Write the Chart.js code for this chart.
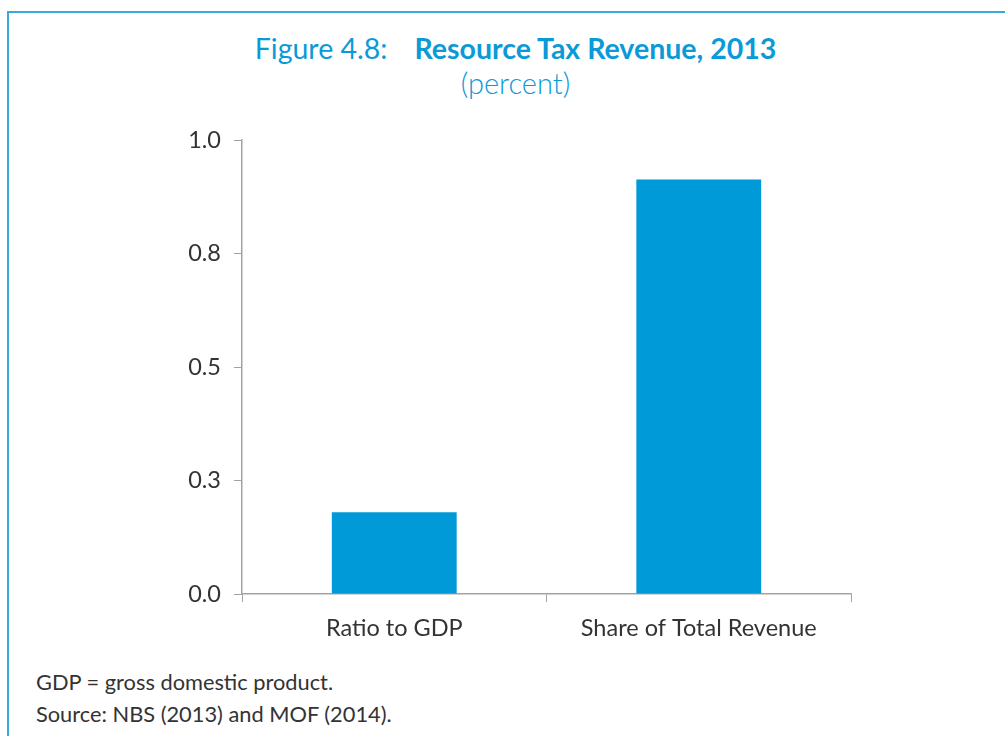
<!DOCTYPE html>
<html>
<head>
<meta charset="utf-8">
<script src="https://cdn.jsdelivr.net/npm/chart.js@4"></script>
<style>
  html, body { margin: 0; padding: 0; background: #fff; }
  body { width: 1005px; height: 736px; position: relative; overflow: hidden; font-family: Lato, "Open Sans", sans-serif; }
  .frame { position: absolute; left: 7px; top: 11px; right: -2px; bottom: -2px; border-top: 2px solid #3aa9dc; border-left: 2px solid #3aa9dc; }
  .title { position: absolute; left: 0; width: 1031px; top: 30px; text-align: center; color: #0a9ad8; font-size: 28.5px; line-height: 36px; }
  .title b { margin-left: 27px; }
  .sub { position: absolute; left: 0; width: 1031px; top: 65px; text-align: center; color: #0a9ad8; font-size: 29px; font-weight: 300; line-height: 36px; }
  .note { position: absolute; left: 36px; color: #333; font-size: 21.8px; }
  #wrap { position: absolute; left: 0; top: 0; width: 1005px; height: 736px; }
</style>
</head>
<body>
<div class="frame"></div>
<div class="title">Figure 4.8:<b>Resource Tax Revenue, 2013</b></div>
<div class="sub">(percent)</div>
<div class="note" style="top:668px">GDP = gross domestic product.</div>
<div class="note" style="top:700px">Source: NBS (2013) and MOF (2014).</div>
<div id="wrap"><canvas id="chart" width="1005" height="736"></canvas></div>
<script>
// values
const categories = ['Ratio to GDP', 'Share of Total Revenue'];
const revenueShare = [0.18, 0.913];
const yTicks = [0, 0.25, 0.5, 0.75, 1.0];
const yTickLabels = ['0.0', '0.3', '0.5', '0.8', '1.0'];

const axisGray = '#a3a3a3';
const textDark = '#333333';

new Chart(document.getElementById('chart').getContext('2d'), {
  type: 'bar',
  data: {
    labels: categories,
    datasets: [{
      data: revenueShare,
      backgroundColor: '#009ad9',
      borderWidth: 0,
      barPercentage: 0.41,
      categoryPercentage: 1
    }]
  },
  options: {
    responsive: false,
    animation: false,
    layout: { padding: { left: 0, right: 154, top: 140, bottom: 82 } },
    plugins: { legend: { display: false }, tooltip: { enabled: false } },
    scales: {
      x: {
        offset: true,
        grid: { offset: true, drawOnChartArea: false, drawTicks: true, tickLength: 8, color: axisGray },
        border: { color: axisGray, width: 1.5 },
        ticks: { color: textDark, font: { family: 'Lato', size: 23.5 }, padding: 12 },
        afterFit: function(scale) { scale.height = 60; }
      },
      y: {
        min: 0,
        max: 1,
        afterBuildTicks: function(scale) {
          scale.ticks = yTicks.map(function(v) { return { value: v }; });
        },
        grid: { drawOnChartArea: false, drawTicks: true, tickLength: 8, color: axisGray },
        border: { color: axisGray, width: 1.5 },
        ticks: {
          color: textDark,
          font: { family: 'Lato', size: 23.5 },
          padding: 13,
          callback: function(value, index) { return yTickLabels[index]; }
        },
        afterFit: function(scale) { scale.width = 242; }
      }
    }
  }
});
</script>
</body>
</html>
